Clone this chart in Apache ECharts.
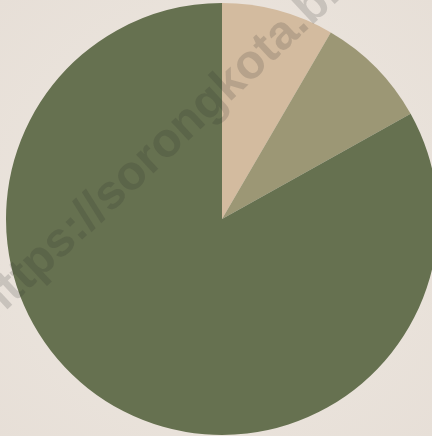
<!DOCTYPE html>
<html>
<head>
<meta charset="utf-8">
<script src="https://cdn.jsdelivr.net/npm/echarts@6/dist/echarts.min.js"></script>
<style>
html,body{margin:0;padding:0;background:#ECE5DD;}
#c{width:432px;height:436px;}
</style>
</head>
<body>
<div id="c"></div>
<script>
var categories = ['A', 'B', 'C'];
var values = [8.4, 8.5, 83.1];
var colors = ['#D3BB9F', '#9C9775', '#667150'];

var chart = echarts.init(document.getElementById('c'), null, {renderer: 'canvas'});
chart.setOption({
  backgroundColor: {
    type: 'radial', x: 0.5, y: 0.5, r: 0.8,
    colorStops: [{offset: 0, color: '#EEE8E1'}, {offset: 1, color: '#E6DED6'}]
  },
  animation: false,
  series: [{
    type: 'pie',
    center: [222, 219],
    radius: [0, 216],
    startAngle: 90,
    clockwise: true,
    label: {show: false},
    labelLine: {show: false},
    itemStyle: {borderWidth: 0},
    emphasis: {disabled: true},
    data: categories.map(function (c, i) {
      return {name: c, value: values[i], itemStyle: {color: colors[i]}};
    })
  }],
  graphic: [{
    type: 'text',
    x: -16,
    y: 313,
    rotation: 43 * Math.PI / 180,
    z: 100,
    style: {
      text: 'https://sorongkota.blogspot.com',
      font: 'bold 48px "Liberation Sans", Arial, sans-serif',
      fill: 'rgba(40,40,40,0.17)',
      textAlign: 'left',
      textVerticalAlign: 'middle'
    }
  }]
});
</script>
</body>
</html>
